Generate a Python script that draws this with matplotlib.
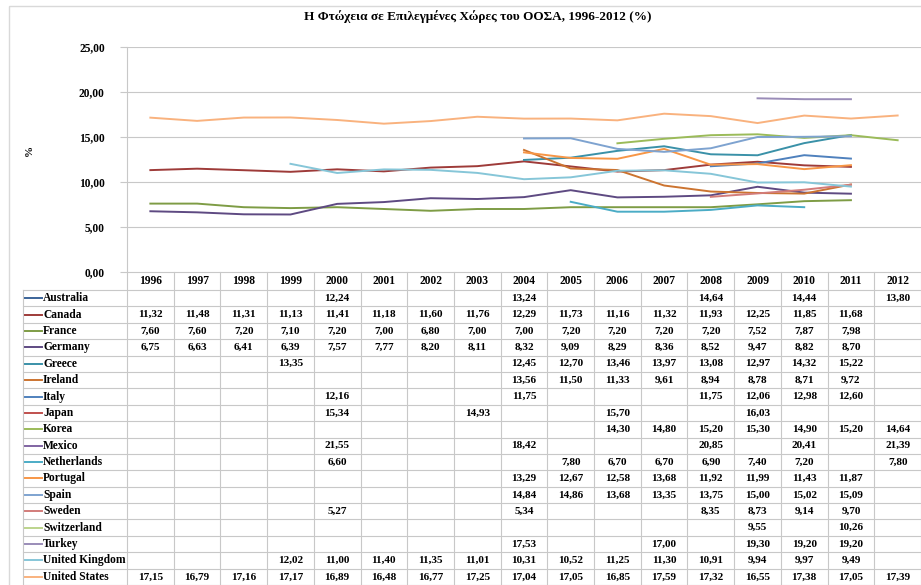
import numpy as np
import matplotlib.pyplot as plt
from matplotlib.patches import Rectangle

nan = np.nan

years = list(range(1996, 2013))

countries = ['Australia', 'Canada', 'France', 'Germany', 'Greece', 'Ireland',
             'Italy', 'Japan', 'Korea', 'Mexico', 'Netherlands', 'Portugal',
             'Spain', 'Sweden', 'Switzerland', 'Turkey', 'United Kingdom',
             'United States']

#            1996   1997   1998   1999   2000   2001   2002   2003   2004   2005   2006   2007   2008   2009   2010   2011   2012
australia = [nan,   nan,   nan,   nan,   12.24, nan,   nan,   nan,   13.24, nan,   nan,   nan,   14.64, nan,   14.44, nan,   13.80]
canada =    [11.32, 11.48, 11.31, 11.13, 11.41, 11.18, 11.60, 11.76, 12.29, 11.73, 11.16, 11.32, 11.93, 12.25, 11.85, 11.68, nan]
france =    [7.60,  7.60,  7.20,  7.10,  7.20,  7.00,  6.80,  7.00,  7.00,  7.20,  7.20,  7.20,  7.20,  7.52,  7.87,  7.98,  nan]
germany =   [6.75,  6.63,  6.41,  6.39,  7.57,  7.77,  8.20,  8.11,  8.32,  9.09,  8.29,  8.36,  8.52,  9.47,  8.82,  8.70,  nan]
greece =    [nan,   nan,   nan,   13.35, nan,   nan,   nan,   nan,   12.45, 12.70, 13.46, 13.97, 13.08, 12.97, 14.32, 15.22, nan]
ireland =   [nan,   nan,   nan,   nan,   nan,   nan,   nan,   nan,   13.56, 11.50, 11.33, 9.61,  8.94,  8.78,  8.71,  9.72,  nan]
italy =     [nan,   nan,   nan,   nan,   12.16, nan,   nan,   nan,   11.75, nan,   nan,   nan,   11.75, 12.06, 12.98, 12.60, nan]
japan =     [nan,   nan,   nan,   nan,   15.34, nan,   nan,   14.93, nan,   nan,   15.70, nan,   nan,   16.03, nan,   nan,   nan]
korea =     [nan,   nan,   nan,   nan,   nan,   nan,   nan,   nan,   nan,   nan,   14.30, 14.80, 15.20, 15.30, 14.90, 15.20, 14.64]
mexico =    [nan,   nan,   nan,   nan,   21.55, nan,   nan,   nan,   18.42, nan,   nan,   nan,   20.85, nan,   20.41, nan,   21.39]
netherlands = [nan, nan,   nan,   nan,   6.60,  nan,   nan,   nan,   nan,   7.80,  6.70,  6.70,  6.90,  7.40,  7.20,  nan,   7.80]
portugal =  [nan,   nan,   nan,   nan,   nan,   nan,   nan,   nan,   13.29, 12.67, 12.58, 13.68, 11.92, 11.99, 11.43, 11.87, nan]
spain =     [nan,   nan,   nan,   nan,   nan,   nan,   nan,   nan,   14.84, 14.86, 13.68, 13.35, 13.75, 15.00, 15.02, 15.09, nan]
sweden =    [nan,   nan,   nan,   nan,   5.27,  nan,   nan,   nan,   5.34,  nan,   nan,   nan,   8.35,  8.73,  9.14,  9.70,  nan]
switzerland = [nan, nan,   nan,   nan,   nan,   nan,   nan,   nan,   nan,   nan,   nan,   nan,   nan,   9.55,  nan,   10.26, nan]
turkey =    [nan,   nan,   nan,   nan,   nan,   nan,   nan,   nan,   17.53, nan,   nan,   17.00, nan,   19.30, 19.20, 19.20, nan]
uk =        [nan,   nan,   nan,   12.02, 11.00, 11.40, 11.35, 11.01, 10.31, 10.52, 11.25, 11.30, 10.91, 9.94,  9.97,  9.49,  nan]
us =        [17.15, 16.79, 17.16, 17.17, 16.89, 16.48, 16.77, 17.25, 17.04, 17.05, 16.85, 17.59, 17.32, 16.55, 17.38, 17.05, 17.39]

series = [australia, canada, france, germany, greece, ireland, italy, japan,
          korea, mexico, netherlands, portugal, spain, sweden, switzerland,
          turkey, uk, us]

colors = ['#3B6499', '#9E3B39', '#7E9C45', '#5E4A82', '#3A91A8', '#CC7430',
          '#4F81BD', '#C0504D', '#9BBB59', '#8064A2', '#4BACC6', '#F79646',
          '#7EA3D0', '#D27C7A', '#BCD48C', '#9A8CB8', '#86C6D8', '#F9B27E']

yticks = [0, 5, 10, 15, 20, 25]

title = 'Η Φτώχεια σε Επιλεγμένες Χώρες του ΟΟΣΑ, 1996-2012 (%)'


def fmt(v):
    return f'{v:.2f}'.replace('.', ',')


plt.rcParams['font.family'] = ['Liberation Serif', 'DejaVu Serif']
plt.rcParams['font.weight'] = 'bold'

W, H = 921, 585
X0 = 127            # left edge of plot / table values
Y0 = 272            # zero line / top of header row
Y25 = 47            # 25,00 line
HB = 290            # bottom of header row
LX = 23             # left edge of label column
CW = (W - X0) / len(years)
RH = (H - HB) / len(countries)
grid_c = '#C8C8C8'

fig = plt.figure(figsize=(W / 100, H / 100), dpi=100)

# background / table layer in pixel coordinates
bg = fig.add_axes([0, 0, 1, 1])
bg.set_xlim(0, W)
bg.set_ylim(H, 0)
bg.axis('off')
bg.add_patch(Rectangle((9, 6), W, H, fill=False, ec='#D9D9D9', lw=1))

bg.text(478, 17, title, ha='center', va='center', fontsize=9.5)
bg.text(29, 150, '%', ha='center', va='center', rotation=90, fontsize=8)

# table grid
bg.plot([X0, W], [Y0, Y0], color=grid_c, lw=0.8)
for j in range(len(countries) + 1):
    y = HB + j * RH
    bg.plot([LX, W], [y, y], color=grid_c, lw=0.8)
bg.plot([LX, LX], [HB, H], color=grid_c, lw=0.8)
for k in range(len(years) + 1):
    x = X0 + k * CW
    bg.plot([x, x], [Y0, H], color=grid_c, lw=0.8)

for i, yr in enumerate(years):
    bg.text(X0 + (i + 0.5) * CW, (Y0 + HB) / 2 + 0.5, str(yr),
            ha='center', va='center', fontsize=8.3)

for j, (name, vals, c) in enumerate(zip(countries, series, colors)):
    yc = HB + (j + 0.5) * RH
    bg.plot([25, 42], [yc, yc], color=c, lw=1.4)
    bg.text(43, yc, name, ha='left', va='center', fontsize=8.3)
    for i, v in enumerate(vals):
        if not np.isnan(v):
            bg.text(X0 + (i + 0.5) * CW, yc, fmt(v), ha='center',
                    va='center', fontsize=8.1)

# line chart
ax = fig.add_axes([X0 / W, (H - Y0) / H, (W - X0) / W, (Y0 - Y25) / H])
ax.patch.set_alpha(0)
x = np.arange(len(years))
for vals, c in zip(series, colors):
    ax.plot(x, vals, color=c, lw=1.4, solid_joinstyle='round')

ax.set_xlim(-0.5, len(years) - 0.5)
ax.set_ylim(0, 25)
ax.set_yticks(yticks)
ax.set_yticklabels([fmt(t) for t in yticks], fontsize=8.3)
ax.set_xticks([])
ax.tick_params(axis='y', length=5, width=0.8, color=grid_c, pad=11)
for t in yticks[1:]:
    ax.axhline(t, color=grid_c, lw=0.8, zorder=0)
for s in ['top', 'right', 'bottom']:
    ax.spines[s].set_visible(False)
ax.spines['left'].set_color(grid_c)
ax.spines['left'].set_linewidth(0.8)

fig.savefig('out.png', dpi=100)
